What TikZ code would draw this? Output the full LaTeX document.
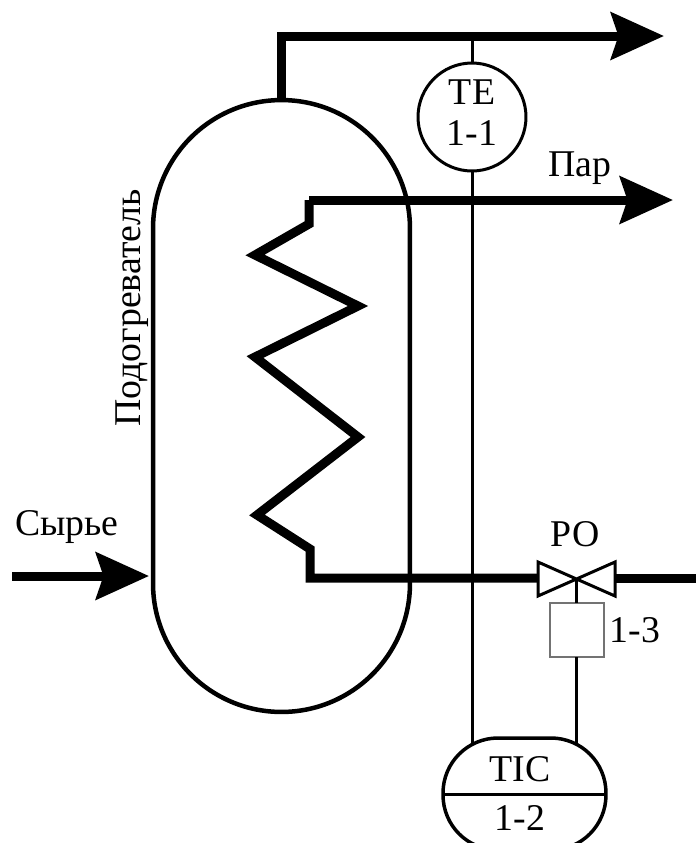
\documentclass[tikz,border=0pt]{standalone}
\usepackage{fontspec}
\setmainfont{Liberation Serif}
\usetikzlibrary{arrows.meta}
\begin{document}
\begin{tikzpicture}[x=0.02cm, y=-0.02cm,
				    every node/.style={inner sep=0pt, outer sep=0pt, font=\fontsize{21.5}{22.5}\selectfont},
				    vessel/.style={draw, line width=0.09cm, rounded corners=2.57cm,
				    			  minimum width=5.14cm, minimum height=12.24cm},
				    sensor/.style={draw, circle, fill=white, line width=0.06cm,
				    			  minimum size=2.16cm},
				    controller/.style={draw, fill=white, line width=0.07cm, rounded corners=1.1cm,
				    			  minimum width=3.26cm, minimum height=2.24cm},
				    actuator/.style={draw=black!55, fill=white, line width=0.03cm, minimum size=1.08cm},
				    pipe/.style={line width=0.18cm, miter limit=10},
				    flow/.style={pipe, -{Stealth[length=1.06cm, width=0.94cm, inset=0.15cm]}},
				    signal/.style={line width=0.06cm},
				    valvebody/.style={draw, fill=white, line width=0.06cm, line join=miter}]
	\useasboundingbox (0, 0) rectangle (696, 843);
	\clip (0, 0) rectangle (696, 843);

	\coordinate (out1) at (664, 36);
	\coordinate (out2) at (673, 200);
	\coordinate (feed) at (12, 576);
	\coordinate (feedend) at (149, 576);
	\coordinate (coiltop) at (309, 200);
	\coordinate (coilend) at (310, 578);
	\coordinate (valve) at (576, 578);
	\coordinate (valvein) at (538, 578);
	\coordinate (valveout) at (615, 578);
	\coordinate (drain) at (696, 578);

	\node[vessel] (heater) at (281.5, 406) {};
	\node[sensor] (te) at (472, 117) {};
	\node[actuator] (act) at (577, 630) {};

	\draw[signal] (te.north) -- (te.north |- out1);
	\draw[signal] (te.south) -- (te.south |- 0, 794);
	\draw[signal] (valve) -- (act.north -| valve);
	\draw[signal] (act.south -| valve) -- (576, 794);
	\node[controller] (tic) at (524.5, 794) {};
	\draw[signal] (tic.west) -- (tic.east);

	\draw[flow] (heater.north) |- (out1);
	\draw[flow] (coiltop) -- (out2);
	\draw[flow] (feed) -- (feedend);
	\draw[pipe] (coiltop) -- ++(0, 24) -- (255, 255) -- (358, 306) -- (255, 357)
				-- (358, 437) -- (257, 515) -- (310, 549) -- (coilend) -- (valvein);
	\draw[pipe] (valveout) -- (drain);
	\draw[valvebody] (538, 562) -- (538, 596) -- (615, 562) -- (615, 596) -- cycle;

	\node (tetext) at (472, 92) {TE};
	\node (tenum) at (472, 133) {1-1};
	\node (tictext) at (520, 769) {TIC};
	\node (ticnum) at (520, 818) {1-2};
	\node (ponum) at (635, 630) {1-3};
	\node (po) at (575, 534) {РО};
	\node (par) at (580, 168) {Пар};
	\node (syr) at (67, 527) {Сырье};
	\node[rotate=90] (name) at (132, 308) {Подогреватель};
\end{tikzpicture}
\end{document}
